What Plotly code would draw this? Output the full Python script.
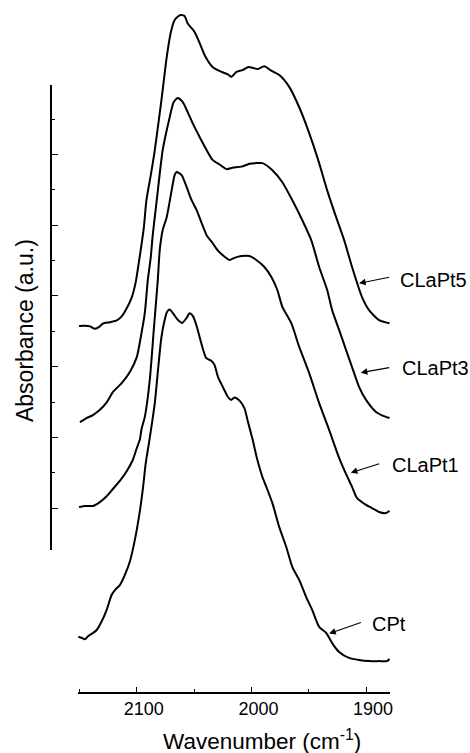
import plotly.graph_objects as go

# ---- data (wavenumber cm-1, absorbance a.u. with vertical offsets) ----
wn_clapt5 = [2150.4, 2145.2, 2140.9, 2136.5, 2132.2, 2129.6, 2123.5, 2117.4, 2113.0, 2108.7,
             2104.3, 2100.9, 2098.3, 2095.7, 2093.9, 2091.6, 2087.8, 2084.3, 2078.5, 2073.9,
             2070.4, 2067.0, 2062.0, 2058.3, 2055.7, 2049.6, 2045.2, 2040.9, 2033.9, 2026.1,
             2020.9, 2017.4, 2013.0, 2007.8, 2002.6, 1998.3, 1994.8, 1988.7, 1983.5, 1975.7,
             1966.9, 1958.3, 1949.6, 1940.9, 1933.9, 1926.1, 1919.1, 1912.2, 1907.8, 1903.5,
             1897.4, 1888.7, 1879.5]
ab_clapt5 = [6.15, 6.16, 6.14, 6.07, 6.14, 6.22, 6.26, 6.31, 6.43, 6.66,
             6.97, 7.40, 7.93, 8.50, 8.92, 9.71, 10.42, 11.13, 12.54, 13.76,
             14.45, 14.81, 14.95, 14.92, 14.72, 14.47, 14.16, 13.82, 13.48, 13.34,
             13.28, 13.20, 13.34, 13.39, 13.48, 13.45, 13.42, 13.50, 13.39, 13.25,
             12.91, 12.34, 11.61, 10.76, 9.99, 9.23, 8.58, 7.82, 7.37, 6.97,
             6.60, 6.32, 6.23]

wn_clapt3 = [2149.6, 2143.5, 2138.3, 2132.2, 2126.1, 2120.9, 2113.0, 2106.1, 2100.0, 2096.5,
             2093.0, 2090.4, 2087.8, 2086.1, 2082.6, 2077.4, 2071.3, 2067.8, 2064.3, 2060.0,
             2055.7, 2051.3, 2045.2, 2039.1, 2033.9, 2027.8, 2021.7, 2016.5, 2008.7, 2001.7,
             1995.7, 1990.4, 1981.7, 1973.0, 1964.3, 1955.7, 1947.8, 1940.9, 1933.9, 1929.6,
             1923.5, 1917.4, 1912.2, 1906.1, 1900.0, 1891.3, 1882.6, 1879.5]
ab_clapt3 = [3.43, 3.55, 3.63, 3.78, 4.00, 4.28, 4.54, 4.85, 5.27, 5.84,
             6.52, 7.45, 8.10, 8.72, 9.71, 11.13, 12.06, 12.49, 12.60, 12.49,
             12.21, 11.89, 11.50, 11.13, 10.85, 10.72, 10.59, 10.63, 10.66, 10.74,
             10.76, 10.76, 10.56, 10.22, 9.71, 9.15, 8.58, 7.82, 7.17, 6.60,
             6.04, 5.47, 4.99, 4.43, 4.06, 3.72, 3.58, 3.55]

wn_clapt1 = [2150.4, 2145.2, 2138.3, 2132.2, 2126.1, 2120.9, 2114.8, 2108.7, 2103.5, 2100.0,
             2097.4, 2095.7, 2093.0, 2088.7, 2085.2, 2081.7, 2080.0, 2077.4, 2073.9, 2069.6,
             2067.0, 2065.2, 2060.9, 2056.5, 2052.2, 2047.8, 2043.5, 2039.1, 2033.9, 2029.6,
             2025.2, 2019.1, 2014.8, 2008.7, 2001.7, 1995.7, 1988.7, 1982.6, 1977.4, 1973.0,
             1965.2, 1958.3, 1949.6, 1940.9, 1932.2, 1923.5, 1917.4, 1912.2, 1907.8, 1900.0,
             1894.8, 1888.7, 1882.6, 1879.5]
ab_clapt1 = [1.03, 1.06, 1.06, 1.17, 1.34, 1.54, 1.77, 2.05, 2.36, 2.70,
             2.93, 3.26, 3.58, 4.62, 6.04, 7.45, 8.30, 8.87, 9.23, 9.99,
             10.42, 10.51, 10.42, 10.08, 9.71, 9.43, 9.07, 8.72, 8.50, 8.30,
             8.16, 8.02, 8.08, 8.13, 8.13, 8.02, 7.82, 7.54, 7.17, 6.69,
             6.23, 5.56, 4.82, 3.97, 3.21, 2.42, 1.96, 1.60, 1.28, 1.09,
             1.00, 0.89, 0.86, 0.92]

wn_cpt = [2151.0, 2148.1, 2145.2, 2142.3, 2138.0, 2135.0, 2130.7, 2126.3, 2122.0, 2119.1,
          2114.8, 2110.4, 2106.1, 2101.7, 2097.4, 2094.5, 2092.2, 2089.1, 2084.3, 2081.5,
          2078.5, 2075.7, 2073.7, 2071.3, 2068.4, 2064.1, 2060.3, 2056.8, 2053.9, 2051.0,
          2047.6, 2043.7, 2039.4, 2035.0, 2032.2, 2029.3, 2025.0, 2020.6, 2017.7, 2014.8,
          2010.4, 2006.1, 2003.2, 1998.9, 1994.8, 1990.4, 1987.0, 1981.7, 1975.7, 1969.6,
          1964.3, 1958.3, 1952.2, 1947.0, 1940.9, 1934.8, 1929.6, 1923.5, 1914.8, 1906.1,
          1897.4, 1888.7, 1881.7, 1879.5]
ab_cpt = [-2.64, -2.67, -2.71, -2.62, -2.53, -2.45, -2.21, -1.88, -1.46, -1.32,
          -1.18, -0.89, -0.52, 0.10, 0.90, 1.60, 2.27, 2.90, 3.97, 4.91,
          5.84, 6.32, 6.55, 6.62, 6.51, 6.32, 6.24, 6.37, 6.51, 6.43,
          6.13, 5.66, 5.24, 5.17, 5.05, 4.72, 4.43, 4.15, 4.06, 4.13,
          4.04, 3.83, 3.46, 2.93, 2.36, 1.88, 1.60, 1.14, 0.46, -0.10,
          -0.67, -1.03, -1.52, -1.88, -2.36, -2.53, -2.82, -3.07, -3.24, -3.30,
          -3.33, -3.33, -3.33, -3.27]

series_names = ["CLaPt5", "CLaPt3", "CLaPt1", "CPt"]
series_x = [wn_clapt5, wn_clapt3, wn_clapt1, wn_cpt]
series_y = [ab_clapt5, ab_clapt3, ab_clapt1, ab_cpt]

x_tick_vals = [2100, 2000, 1900]
x_tick_text = ["2100", "2000", "1900"]

# label placement: arrow head (data), arrow tail (data), text left/middle (paper)
label_pos = {
    "CLaPt5": ((1906.1, 7.36), (1878.5, 7.54), (1.0235, 0.6041)),
    "CLaPt3": ((1904.6, 4.83), (1878.5, 4.98), (1.0294, 0.4751)),
    "CLaPt1": ((1913.3, 2.00), (1887.2, 2.27), (1.0, 0.3328)),
    "CPt":    ((1932.2, -2.55), (1903.2, -2.22), (0.941, 0.0997)),
}

FONT = "Liberation Sans, Arial, sans-serif"

fig = go.Figure()
for name, xs, ys in zip(series_names, series_x, series_y):
    fig.add_trace(go.Scatter(x=xs, y=ys, mode="lines", name=name,
                             line=dict(color="black", width=2, shape="spline", smoothing=0.6),
                             hoverinfo="skip", showlegend=False))

# empty trace to host the detached absorbance axis
fig.add_trace(go.Scatter(x=[], y=[], xaxis="x2", yaxis="y2", showlegend=False, hoverinfo="skip"))

annotations = []
for name in series_names:
    (hx, hy), (tx, ty), (lx, ly) = label_pos[name]
    annotations.append(dict(x=hx, y=hy, ax=tx, ay=ty, xref="x", yref="y", axref="x", ayref="y",
                            text="", showarrow=True, arrowhead=2, arrowsize=1.2, arrowwidth=1.1,
                            arrowcolor="black"))
    annotations.append(dict(x=lx, y=ly, xref="paper", yref="paper", text=name, showarrow=False,
                            xanchor="left", yanchor="middle",
                            font=dict(family=FONT, size=20, color="black")))

annotations.append(dict(x=-0.0735, y=0.5293, xref="paper", yref="paper", text="Absorbance (a.u.)",
                        textangle=-90, showarrow=False, xanchor="center", yanchor="middle",
                        font=dict(family=FONT, size=23, color="black")))
annotations.append(dict(x=0.6235, y=-0.0704, xref="paper", yref="paper",
                        text="Wavenumber (cm<sup>-1</sup>)", showarrow=False,
                        xanchor="center", yanchor="middle",
                        font=dict(family=FONT, size=22.5, color="black")))

fig.update_layout(
    width=470, height=753,
    margin=dict(l=50, r=80, t=10, b=61),
    paper_bgcolor="white", plot_bgcolor="white",
    showlegend=False,
    xaxis=dict(domain=[0.08235, 1], range=[2151.3, 1879.1], anchor="y",
               showline=True, linecolor="black", linewidth=1.5, mirror=False,
               ticks="inside", ticklen=5, tickwidth=1.2, tickcolor="black",
               tickmode="array", tickvals=x_tick_vals, ticktext=x_tick_text,
               ticklabelshift=-7,
               minor=dict(ticks="inside", dtick=50, tick0=1900, ticklen=3, tickwidth=1, tickcolor="black"),
               showgrid=False, zeroline=False,
               tickfont=dict(family=FONT, size=18, color="black")),
    yaxis=dict(domain=[0, 1], range=[-4.204, 15.092], anchor="x", visible=False),
    xaxis2=dict(domain=[0.00588, 0.03], anchor="y2", visible=False, range=[0, 1]),
    yaxis2=dict(domain=[0.20821, 0.89003], anchor="x2", range=[-0.1867, 12.970],
                showline=True, linecolor="black", linewidth=1.5,
                ticks="inside", ticklen=6, tickwidth=1, tickcolor="black",
                tickmode="linear", tick0=1, dtick=2,
                minor=dict(ticks="inside", tickmode="array", tickvals=[2, 4, 6, 8, 10, 12],
                           ticklen=3, tickwidth=1, tickcolor="black"),
                showticklabels=False, showgrid=False, zeroline=False),
    annotations=annotations,
)

fig.write_html("out.html")
